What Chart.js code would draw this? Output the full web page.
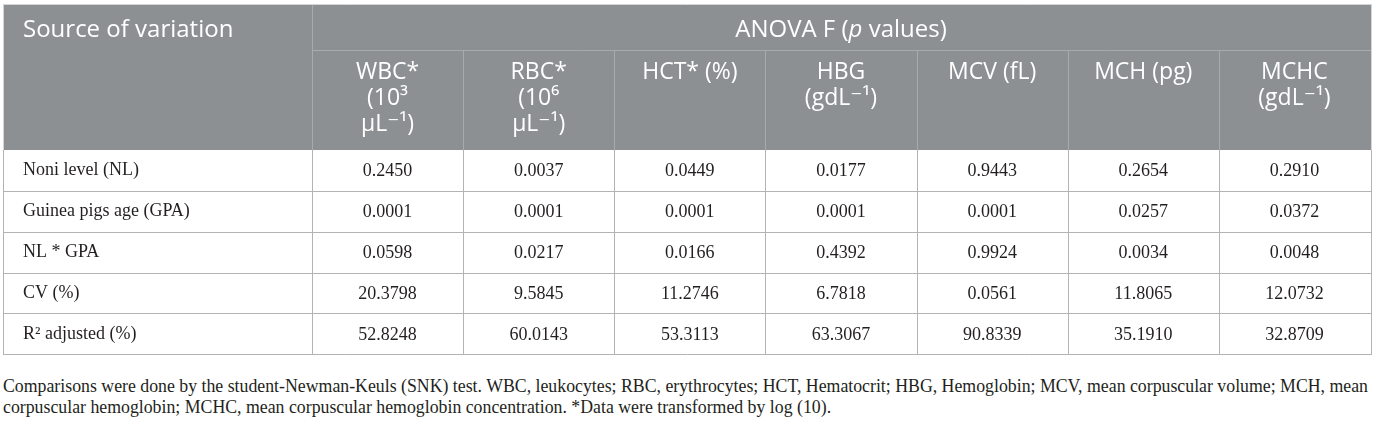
<!DOCTYPE html>
<html><head><meta charset="utf-8">
<script src="https://cdn.jsdelivr.net/npm/chart.js@4.4.1/dist/chart.umd.min.js"></script>
<style>
html,body{margin:0;padding:0;background:#fff;}
#wrap{position:relative;width:1375px;height:422px;overflow:hidden;}
#box{position:absolute;left:0;top:0;width:1375px;height:365px;}
#note{position:absolute;left:3px;top:376px;width:1372px;font-family:"Liberation Serif",serif;color:#231f20;line-height:21px;white-space:nowrap;font-size:16px;}
</style></head><body>
<div id="wrap"><div id="box"><canvas id="c"></canvas></div>
<div id="note"><div id="l1"></div><div id="l2"></div></div></div>
<script>
// ---- data ----
const rowLabels = ["Noni level (NL)", "Guinea pigs age (GPA)", "NL * GPA", "CV (%)", "R\u00b2 adjusted (%)"];
const columnKeys = ["WBC", "RBC", "HCT", "HBG", "MCV", "MCH", "MCHC"];
const columnLabels = [["WBC*", "(10\u00b3", "\u03bcL\u207b\u00b9)"], ["RBC*", "(10\u2076", "\u03bcL\u207b\u00b9)"], ["HCT* (%)"], ["HBG", "(gdL\u207b\u00b9)"], ["MCV (fL)"], ["MCH (pg)"], ["MCHC", "(gdL\u207b\u00b9)"]];
const wbc  = [0.2450, 0.0001, 0.0598, 20.3798, 52.8248];
const rbc  = [0.0037, 0.0001, 0.0217, 9.5845, 60.0143];
const hct  = [0.0449, 0.0001, 0.0166, 11.2746, 53.3113];
const hbg  = [0.0177, 0.0001, 0.4392, 6.7818, 63.3067];
const mcv  = [0.9443, 0.0001, 0.9924, 0.0561, 90.8339];
const mch  = [0.2654, 0.0257, 0.0034, 11.8065, 35.1910];
const mchc = [0.2910, 0.0372, 0.0048, 12.0732, 32.8709];
const stubHeader = "Source of variation";
const spanHeader = ["ANOVA F (", "p", " values)"];
const noteLines = [
  "Comparisons were done by the student-Newman-Keuls (SNK) test. WBC, leukocytes; RBC, erythrocytes; HCT, Hematocrit; HBG, Hemoglobin; MCV, mean corpuscular volume; MCH, mean",
  "corpuscular hemoglobin; MCHC, mean corpuscular hemoglobin concentration. *Data were transformed by log (10)."
];
const seriesList = [wbc, rbc, hct, hbg, mcv, mch, mchc];

// ---- style / layout ----
const geom = { tableLeft: 4, tableTop: 4, splitY: 50, noteWidth: 1366 };
const colors = { header: '#8c9093', headerLine: '#a7abad', bodyLine: '#b3b3b3', outer: '#d3d5d6', text: '#231f20', headText: '#ffffff' };
const headFont = '"Open Sans", "DejaVu Sans", sans-serif';
const bodyFont = '"Liberation Serif", "Times New Roman", serif';

// footnote
(function(){
  const m = document.createElement('canvas').getContext('2d');
  m.font = '16px ' + bodyFont;
  const w = m.measureText(noteLines[0]).width;
  const fs = 16 * geom.noteWidth / w;
  const note = document.getElementById('note');
  note.style.fontSize = fs.toFixed(2) + 'px';
  document.getElementById('l1').textContent = noteLines[0];
  document.getElementById('l2').textContent = noteLines[1];
})();

function boundaries(scale, n) {
  const out = [];
  for (let i = 0; i < n - 1; i++) out.push((scale.getPixelForValue(i) + scale.getPixelForValue(i + 1)) / 2);
  return out;
}
function seg(ctx, x1, y1, x2, y2) {
  ctx.beginPath();
  const sx = v => Math.round(v) + 0.5;
  if (x1 === x2) { ctx.moveTo(sx(x1), y1); ctx.lineTo(sx(x2), y2); }
  else { ctx.moveTo(x1, sx(y1)); ctx.lineTo(x2, sx(y2)); }
  ctx.stroke();
}

const tablePlugin = {
  id: 'tablePlugin',
  beforeDraw(chart) {
    const { ctx, chartArea: a, scales: { x, y } } = chart;
    const L = geom.tableLeft, T = geom.tableTop;
    const xb = boundaries(x, columnKeys.length);
    const yb = boundaries(y, rowLabels.length);
    ctx.save();
    ctx.fillStyle = '#fff';
    ctx.fillRect(0, 0, chart.width, chart.height);
    ctx.fillStyle = colors.header;
    ctx.fillRect(L, T + 1, a.right - L + 1, a.top - T - 1);
    ctx.lineWidth = 1;
    ctx.strokeStyle = colors.outer;
    seg(ctx, L, T, a.right + 1, T);
    seg(ctx, L - 1, T, L - 1, a.top);
    seg(ctx, a.right + 1, T, a.right + 1, a.top);
    ctx.strokeStyle = colors.headerLine;
    seg(ctx, a.left, T + 1, a.left, a.top);
    seg(ctx, a.left, geom.splitY, a.right + 1, geom.splitY);
    xb.forEach(px => seg(ctx, px, geom.splitY, px, a.top));
    ctx.strokeStyle = colors.bodyLine;
    yb.forEach(py => seg(ctx, L - 1, py, a.right + 1, py));
    seg(ctx, L - 1, a.bottom, a.right + 2, a.bottom);
    seg(ctx, L - 1, a.top, L - 1, a.bottom);
    seg(ctx, a.left, a.top, a.left, a.bottom);
    xb.forEach(px => seg(ctx, px, a.top, px, a.bottom));
    seg(ctx, a.right + 1, a.top, a.right + 1, a.bottom);
    ctx.restore();
  },
  afterDatasetsDraw(chart) {
    const ctx = chart.ctx;
    ctx.save();
    ctx.fillStyle = colors.text;
    ctx.font = '18px ' + bodyFont;
    ctx.textAlign = 'center';
    ctx.textBaseline = 'middle';
    chart.data.datasets.forEach((ds, di) => {
      const meta = chart.getDatasetMeta(di);
      meta.data.forEach((pt, i) => {
        ctx.fillText(ds.data[i].v.toFixed(4), pt.x, pt.y + 1);
      });
    });
    ctx.restore();
  },
  afterDraw(chart) {
    const { ctx, chartArea: a } = chart;
    ctx.save();
    ctx.fillStyle = colors.headText;
    ctx.textBaseline = 'alphabetic';
    const base = 37;
    ctx.font = '24px ' + headFont;
    ctx.textAlign = 'left';
    ctx.fillText(stubHeader, chart.scales.y.left, base);
    const fonts = ['24px ' + headFont, 'italic 24px ' + headFont, '24px ' + headFont];
    const widths = spanHeader.map((s, i) => { ctx.font = fonts[i]; return ctx.measureText(s).width; });
    const total = widths.reduce((p, c) => p + c, 0);
    let cx = (a.left + a.right) / 2 - total / 2;
    spanHeader.forEach((s, i) => { ctx.font = fonts[i]; ctx.fillText(s, cx, base); cx += widths[i]; });
    ctx.restore();
  }
};

const datasets = seriesList.map((vals, ci) => ({
  label: columnKeys[ci],
  data: vals.map((v, ri) => ({ x: columnKeys[ci], y: rowLabels[ri], v: v })),
  pointRadius: 0,
  pointHoverRadius: 0,
  showLine: false
}));

new Chart(document.getElementById('c'), {
  type: 'scatter',
  data: { datasets },
  options: {
    responsive: true,
    maintainAspectRatio: false,
    animation: false,
    events: [],
    layout: { padding: { left: 23, right: 5, top: geom.splitY, bottom: 4 } },
    plugins: { legend: { display: false }, tooltip: { enabled: false }, title: { display: false } },
    scales: {
      x: {
        type: 'category',
        labels: columnKeys,
        position: 'top',
        offset: true,
        grid: { display: false, offset: true, drawTicks: false },
        border: { display: false },
        afterFit: s => { s.height = 100; },
        ticks: {
          autoSkip: false, maxRotation: 0, minRotation: 0,
          crossAlign: 'far', padding: 13,
          color: colors.headText,
          font: { family: headFont, size: 23, lineHeight: '26px' },
          callback: (val, idx) => columnLabels[idx]
        }
      },
      y: {
        type: 'category',
        labels: rowLabels,
        position: 'left',
        offset: true,
        grid: { display: false, offset: true, drawTicks: false },
        border: { display: false },
        afterFit: s => { s.width = 289; },
        ticks: {
          autoSkip: false, crossAlign: 'far', padding: 0,
          color: colors.text,
          font: { family: bodyFont, size: 18 }
        }
      }
    }
  },
  plugins: [tablePlugin]
});
</script>
</body></html>
